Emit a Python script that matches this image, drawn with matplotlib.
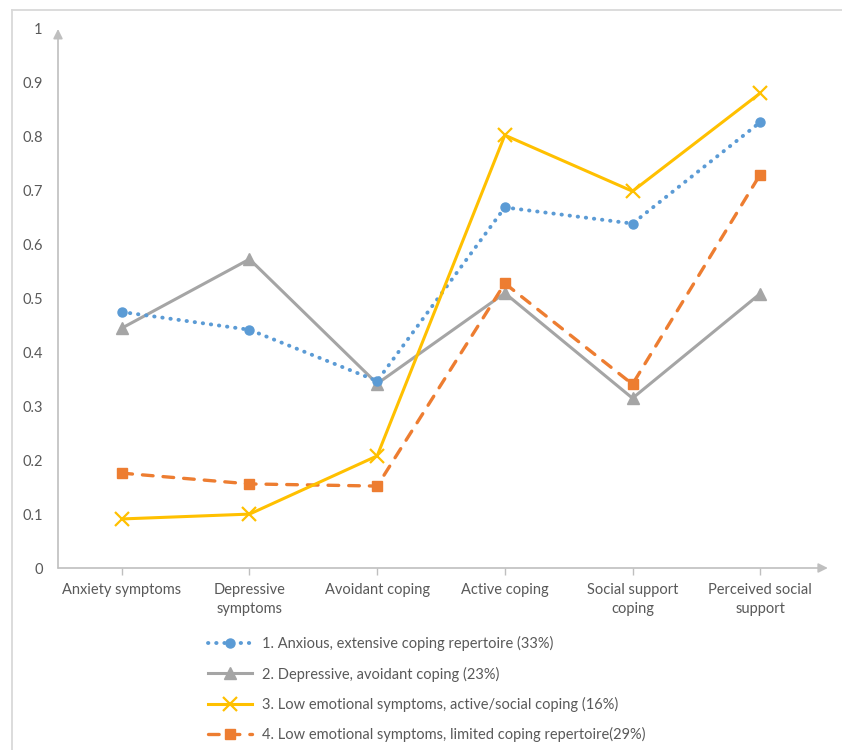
import numpy as np
import matplotlib
matplotlib.use("Agg")
import matplotlib.pyplot as plt
from matplotlib.lines import Line2D

plt.rcParams['font.family'] = ['Lato', 'DejaVu Sans']

# categories on the x axis
categories = ["Anxiety symptoms", "Depressive\nsymptoms", "Avoidant coping",
              "Active coping", "Social support\ncoping", "Perceived social\nsupport"]

# profile values
anxious = [0.475, 0.442, 0.347, 0.669, 0.639, 0.827]
depressive = [0.445, 0.573, 0.342, 0.510, 0.315, 0.509]
low_active = [0.091, 0.100, 0.208, 0.803, 0.699, 0.881]
low_limited = [0.176, 0.156, 0.152, 0.528, 0.341, 0.730]

labels = ["1. Anxious, extensive coping repertoire (33%)",
          "2. Depressive, avoidant coping (23%)",
          "3. Low emotional symptoms, active/social coping (16%)",
          "4. Low emotional symptoms, limited coping repertoire(29%)"]

blue = "#5B9BD5"
gray = "#A5A5A5"
yellow = "#FFC000"
orange = "#ED7D31"
axis_col = "#BFBFBF"
text_col = "#595959"

fig = plt.figure(figsize=(8.42, 7.5), dpi=100)
ax = fig.add_axes([58/842, 1-568/750, (824-58)/842, (568-29)/750])

x = np.arange(len(categories))

ax.plot(x, anxious, color=blue, lw=2.8, linestyle=(0, (0.1, 2.0)),
        dash_capstyle='round', marker='o', markersize=6.5, label=labels[0], zorder=3)
ax.plot(x, depressive, color=gray, lw=2.2, marker='^', markersize=8.5,
        label=labels[1], zorder=2)
ax.plot(x, low_active, color=yellow, lw=2.2, marker='x', markersize=10,
        markeredgewidth=1.6, label=labels[2], zorder=4)
ax.plot(x, low_limited, color=orange, lw=2.4, linestyle=(0, (3.2, 3.0)),
        dash_capstyle='round', marker='s', markersize=7.5, label=labels[3], zorder=3)

ax.set_xlim(-0.5, 5.5)
ax.set_ylim(0, 1)
ax.set_xticks(x)
ax.set_xticklabels(categories, fontsize=10.5, color=text_col, linespacing=1.4)
ax.set_yticks(np.arange(0, 1.01, 0.1))
ax.set_yticklabels(["0", "0.1", "0.2", "0.3", "0.4", "0.5", "0.6", "0.7", "0.8", "0.9", "1"],
                   fontsize=10.5, color=text_col)
ax.tick_params(axis='y', length=0, pad=11)
ax.tick_params(axis='x', length=5, width=1, color=axis_col, pad=6, direction='out')
for s in ax.spines.values():
    s.set_visible(False)

# axis lines with arrow heads
ax.annotate("", xy=(1.005, 0), xytext=(0, 0), xycoords='axes fraction',
            arrowprops=dict(arrowstyle='-|>', color=axis_col, lw=1.2,
                            mutation_scale=14, shrinkA=0, shrinkB=0))
ax.annotate("", xy=(0, 1.0), xytext=(0, 0), xycoords='axes fraction',
            arrowprops=dict(arrowstyle='-|>', color=axis_col, lw=1.2,
                            mutation_scale=14, shrinkA=0, shrinkB=0))

leg = fig.legend(loc='upper left', bbox_to_anchor=(195/842, 1-623/750), frameon=False,
                 fontsize=10.5, handlelength=3.0, labelspacing=1.05, handletextpad=0.7)
for t in leg.get_texts():
    t.set_color(text_col)

# outer chart border (top and left edge visible)
fig.add_artist(Line2D([12/842, 1], [1-10/750, 1-10/750], color="#D9D9D9", lw=1.3,
                      transform=fig.transFigure))
fig.add_artist(Line2D([12/842, 12/842], [0, 1-10/750], color="#D9D9D9", lw=1.3,
                      transform=fig.transFigure))

fig.savefig("out.png", dpi=100, facecolor='white')
